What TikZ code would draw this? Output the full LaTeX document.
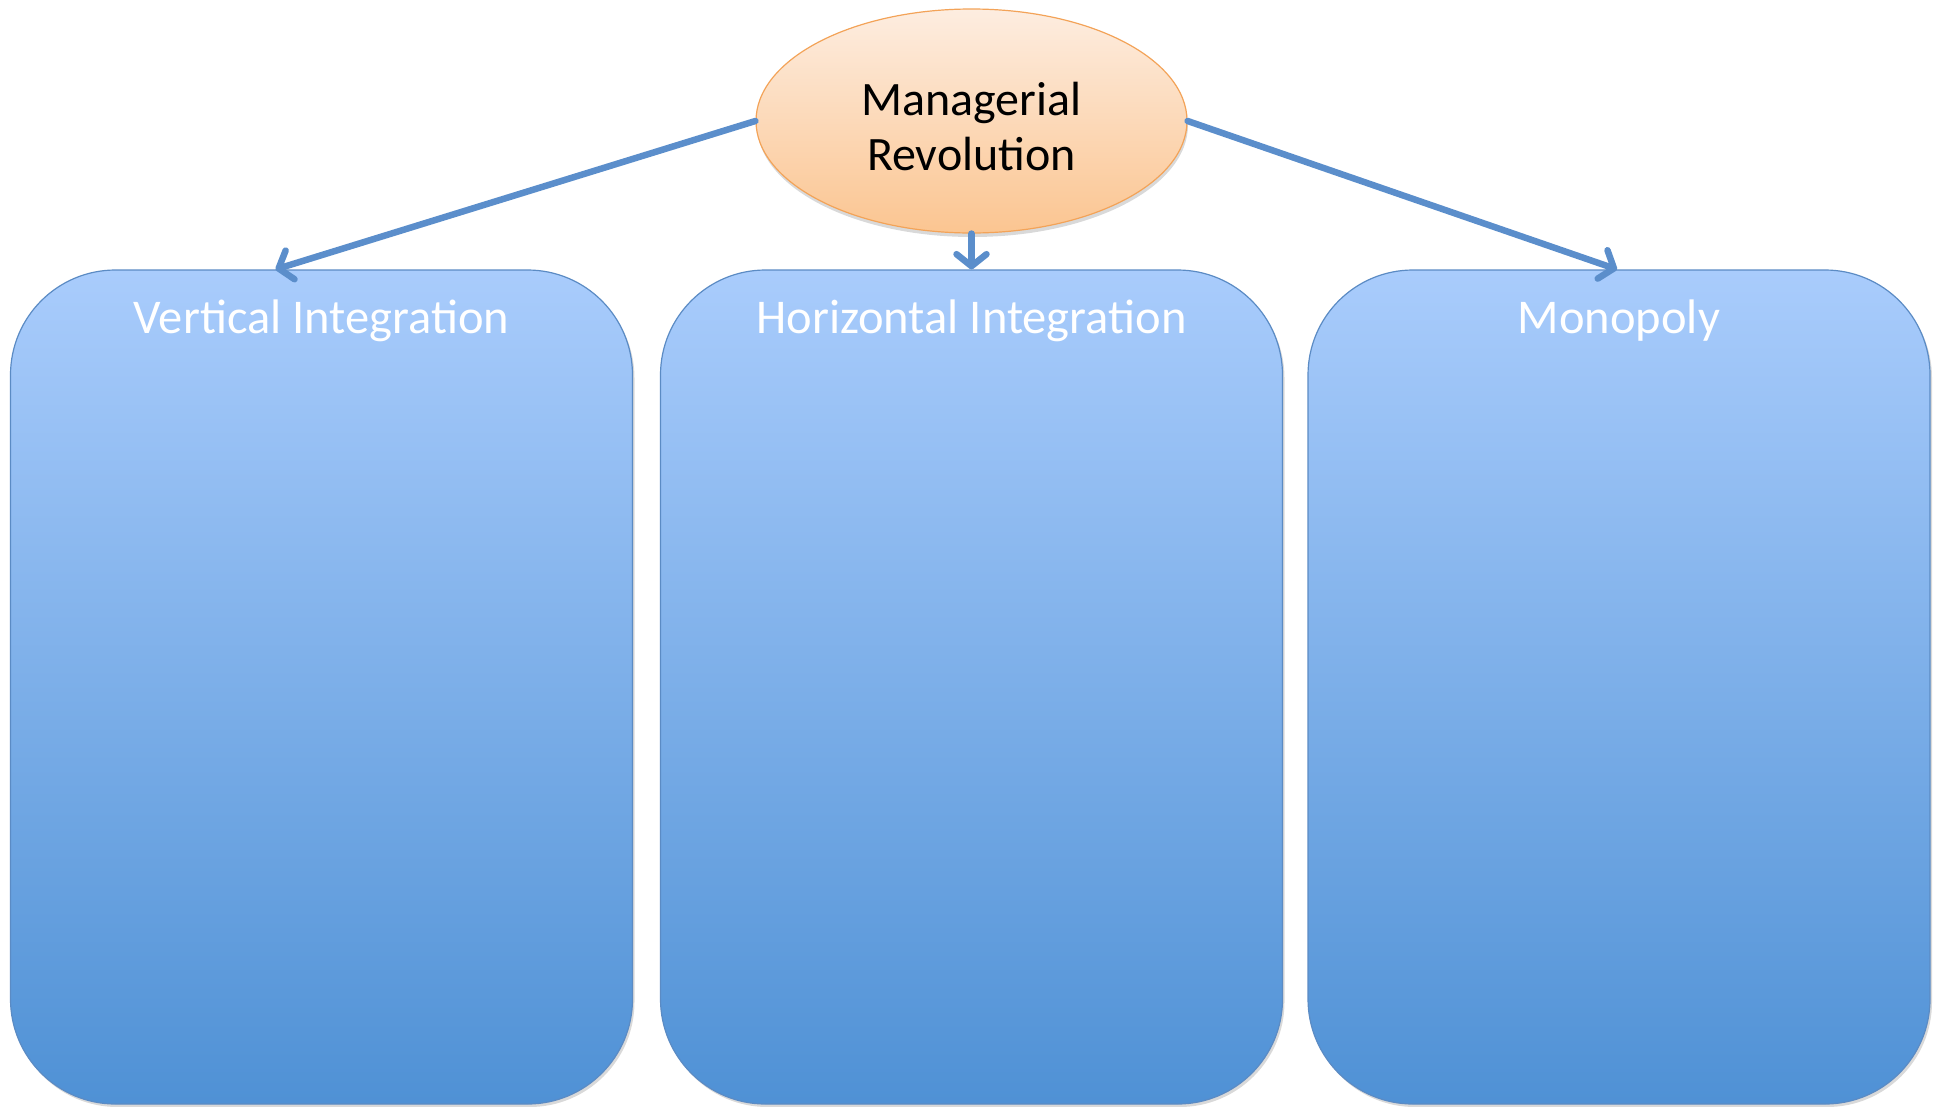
\documentclass[tikz,border=0pt]{standalone}
\usepackage{fontspec}
\setmainfont{Carlito}
\usetikzlibrary{arrows.meta,shadows,shapes.geometric}
\definecolor{boxtop}{HTML}{A9CCFC}
\definecolor{boxbot}{HTML}{4F91D5}
\definecolor{boxline}{HTML}{5B8BC4}
\definecolor{ovaltop}{HTML}{FDEDE0}
\definecolor{ovalbot}{HTML}{FBC591}
\definecolor{ovalline}{HTML}{F3A358}
\definecolor{arrowblue}{HTML}{5B8ECB}
\tikzset{
  topic/.style={rectangle, rounded corners=105pt, draw=boxline, line width=1.2pt,
    top color=boxtop, bottom color=boxbot, minimum width=622pt, minimum height=834pt,
    drop shadow={shadow xshift=2pt, shadow yshift=-3pt, opacity=0.3}},
  title/.style={text=white, font=\fontsize{48.5}{58}\selectfont},
  oval/.style={ellipse, draw=ovalline, line width=1.2pt, top color=ovaltop,
    bottom color=ovalbot, minimum width=431pt, minimum height=224pt, inner sep=0pt,
    drop shadow={shadow xshift=1pt, shadow yshift=-4pt, opacity=0.3}},
  link/.style={draw=arrowblue, line width=6.5pt, line cap=round,
    -{Straight Barb[length=12pt,width=30pt,round]}},
}
\begin{document}
\begin{tikzpicture}[x=1pt,y=-1pt]
      \useasboundingbox (0,0) rectangle (1942,1106);
      \node[topic] (vi) at (321.5,687) {};
      \node[topic] (hi) at (971.5,687) {};
      \node[topic] (mo) at (1619,687) {};
      \node[title] (vit) at (321.5,321) {Vertical Integration};
      \node[title] (hit) at (971.5,321) {Horizontal Integration};
      \node[title] (mot) at (1619,321) {Monopoly};
      \node[oval] (mr) at (971.5,121) {};
      \node[align=center, font=\fontsize{48}{55}\selectfont] (mrt) at (971.5,127)
        {Managerial\\Revolution};
      \begin{scope}[link]
        \draw (mr.west) to ([xshift=-46pt]vi.north);
        \draw (mr.south) to (hi.north);
        \draw (mr.east) to ([xshift=-2pt]mo.north);
      \end{scope}
    \end{tikzpicture}
\end{document}
